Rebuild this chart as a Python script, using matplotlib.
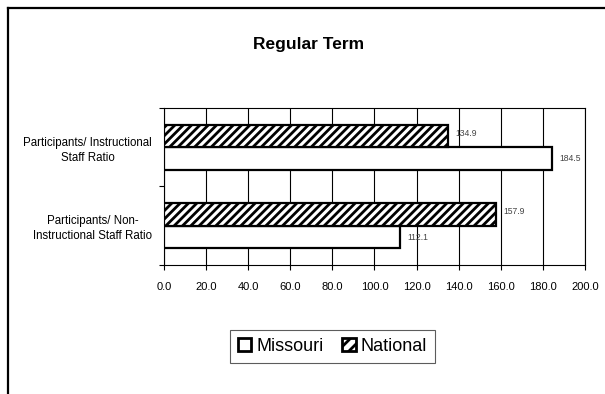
import matplotlib.pyplot as plt
from matplotlib.patches import Patch
from matplotlib.lines import Line2D
import numpy as np

plt.rcParams['font.family'] = ['Liberation Sans', 'DejaVu Sans']
plt.rcParams['hatch.linewidth'] = 2.0

# data
categories = ['Participants/ Non-\nInstructional Staff Ratio',
              'Participants/ Instructional\nStaff Ratio']
missouri = [112.1, 184.5]
national = [157.9, 134.9]
xticks = np.arange(0, 201, 20)

fig = plt.figure(figsize=(6.05, 3.94), dpi=100)
ax = fig.add_axes([164 / 605, 1 - 265 / 394, 421 / 605, 157 / 394])

y = np.arange(len(categories))
h = 0.288
ax.barh(y - h / 2, missouri, height=h, color='white', edgecolor='black',
        linewidth=1.6, zorder=3)
ax.barh(y + h / 2, national, height=h, color='white', edgecolor='black',
        hatch='////', linewidth=1.6, zorder=3)

# value labels
for yi, v in zip(y - h / 2, missouri):
    ax.annotate(f'{v:.1f}', (v, yi), xytext=(5, 0), textcoords='offset points',
                va='center', ha='left', fontsize=6.2, color='#444444')
for yi, v in zip(y + h / 2, national):
    ax.annotate(f'{v:.1f}', (v, yi), xytext=(5, 2), textcoords='offset points',
                va='center', ha='left', fontsize=6.2, color='#444444')

ax.set_xlim(0, 200)
ax.set_ylim(-0.5, 1.5)
ax.set_xticks(xticks)
ax.set_xticklabels([f'{t:.1f}' for t in xticks], fontsize=8)
ax.tick_params(axis='x', direction='out', length=3.6, width=0.8, pad=9)
ax.grid(axis='x', color='black', linewidth=0.8, zorder=0)

# category boundaries as ticks, labels in the middle
ax.set_yticks([-0.5, 0.5, 1.5])
ax.set_yticklabels([])
ax.set_yticks(y, minor=True)
ax.set_yticklabels(categories, minor=True, fontsize=8.3, ma='center',
                   linespacing=1.35)
ax.tick_params(axis='y', which='major', direction='out', length=3.6, width=0.8)
ax.tick_params(axis='y', which='minor', length=0, pad=8.5)

for s in ax.spines.values():
    s.set_color('black')
    s.set_linewidth(0.8)

fig.text(309 / 605, 1 - 45 / 394, 'Regular Term', ha='center', va='center',
         fontsize=12.5, fontweight='bold')

handles = [Patch(facecolor='white', edgecolor='black', linewidth=2, label='Missouri'),
           Patch(facecolor='white', edgecolor='black', linewidth=2, hatch='///',
                 label='National')]
leg = fig.legend(handles=handles, loc='center', bbox_to_anchor=(332.5 / 605, 1 - 346.5 / 394),
                 ncol=2, fontsize=13, frameon=True, fancybox=False,
                 handlelength=0.75, handleheight=0.75, handletextpad=0.3,
                 columnspacing=1.0, borderpad=0.45)
leg.get_frame().set_edgecolor('#333333')
leg.get_frame().set_linewidth(0.8)

# outer chart border (runs off the right and bottom edges)
fig.add_artist(Line2D([7.5 / 605, 7.5 / 605], [1 - 7.5 / 394, 0], transform=fig.transFigure,
                      color='black', linewidth=1.6))
fig.add_artist(Line2D([7.5 / 605, 1], [1 - 7.5 / 394, 1 - 7.5 / 394], transform=fig.transFigure,
                      color='black', linewidth=1.6))

fig.savefig('out.png', dpi=100)
